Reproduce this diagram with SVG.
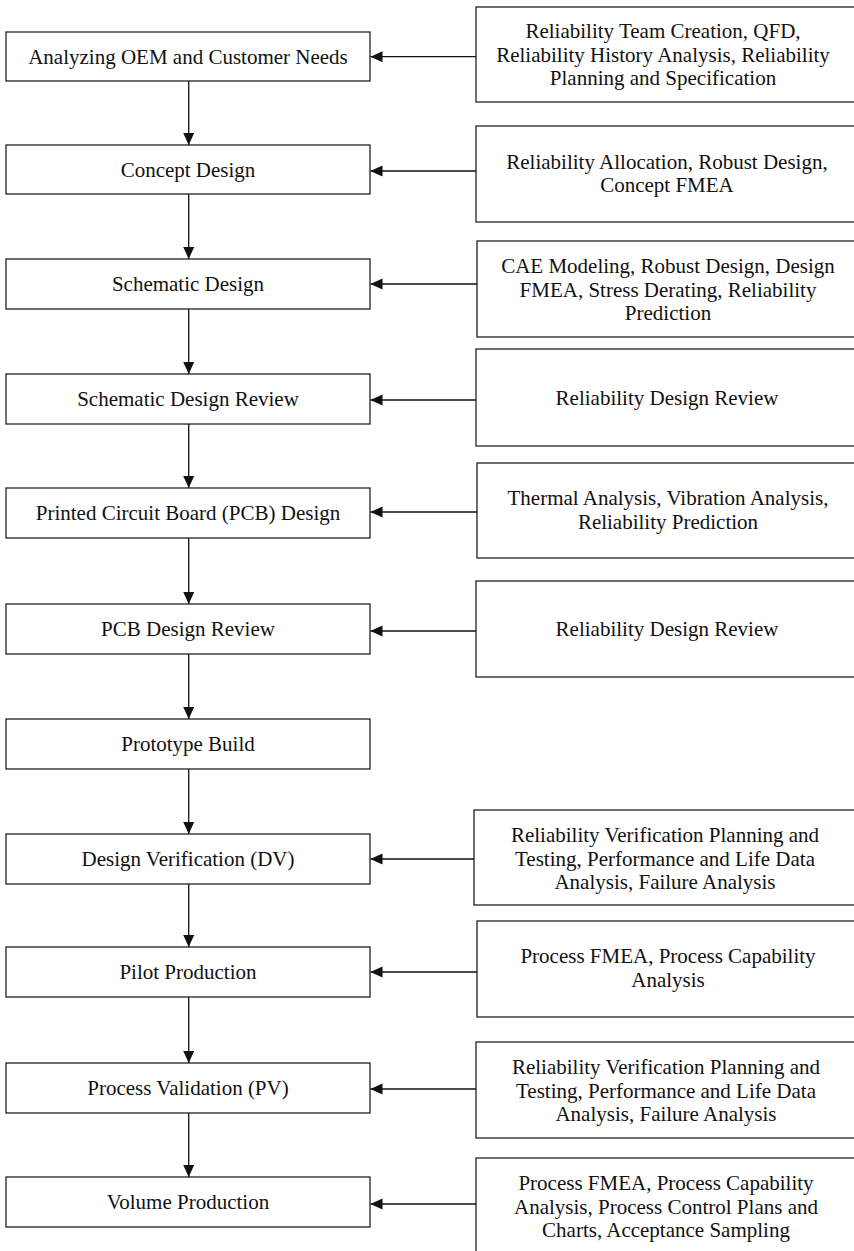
<svg xmlns="http://www.w3.org/2000/svg" width="854" height="1251" viewBox="0 0 854 1251">
  <style>
    .box { fill: #ffffff; stroke: #222222; stroke-width: 1.3; }
    .lbl { font-family: "Liberation Serif", "Times New Roman", serif; font-size: 21px; fill: #111111; text-anchor: middle; }
    .link { stroke: #111111; stroke-width: 1.3; fill: none; }
  </style>
  <defs>
    <marker id="head" markerUnits="userSpaceOnUse" markerWidth="12" markerHeight="12" refX="12" refY="6" orient="auto">
      <path d="M0,0.5 L12,6 L0,11.5 Z" fill="#111111"/>
    </marker>
  </defs>
  <rect width="854" height="1251" fill="#ffffff"/>

  <!-- process steps (left column) -->
  <g id="step-needs"><rect class="box" x="6" y="32" width="364" height="49"/><text class="lbl" x="188" y="63.5">Analyzing OEM and Customer Needs</text></g>
  <g id="step-concept"><rect class="box" x="6" y="145" width="364" height="49"/><text class="lbl" x="188" y="177">Concept Design</text></g>
  <g id="step-schematic"><rect class="box" x="6" y="259" width="364" height="50"/><text class="lbl" x="188" y="291">Schematic Design</text></g>
  <g id="step-schematic-review"><rect class="box" x="6" y="374" width="364" height="50"/><text class="lbl" x="188" y="406">Schematic Design Review</text></g>
  <g id="step-pcb"><rect class="box" x="6" y="488" width="364" height="50"/><text class="lbl" x="188" y="520">Printed Circuit Board (PCB) Design</text></g>
  <g id="step-pcb-review"><rect class="box" x="6" y="604" width="364" height="50"/><text class="lbl" x="188" y="636">PCB Design Review</text></g>
  <g id="step-prototype"><rect class="box" x="6" y="719" width="364" height="50"/><text class="lbl" x="188" y="751">Prototype Build</text></g>
  <g id="step-dv"><rect class="box" x="6" y="834" width="364" height="50"/><text class="lbl" x="188" y="866">Design Verification (DV)</text></g>
  <g id="step-pilot"><rect class="box" x="6" y="947" width="364" height="50"/><text class="lbl" x="188" y="979">Pilot Production</text></g>
  <g id="step-pv"><rect class="box" x="6" y="1063" width="364" height="50"/><text class="lbl" x="188" y="1095">Process Validation (PV)</text></g>
  <g id="step-volume"><rect class="box" x="6" y="1177" width="364" height="50"/><text class="lbl" x="188" y="1209">Volume Production</text></g>

  <!-- reliability activities (right column) -->
  <g id="act-needs"><rect class="box" x="476" y="7" width="390" height="95"/>
    <text class="lbl" x="663" y="38">Reliability Team Creation, QFD,</text>
    <text class="lbl" x="663" y="61.5">Reliability History Analysis, Reliability</text>
    <text class="lbl" x="663" y="85">Planning and Specification</text></g>
  <g id="act-concept"><rect class="box" x="476" y="126" width="390" height="96"/>
    <text class="lbl" x="667" y="168.5">Reliability Allocation, Robust Design,</text>
    <text class="lbl" x="667" y="192">Concept FMEA</text></g>
  <g id="act-schematic"><rect class="box" x="477" y="241" width="390" height="96"/>
    <text class="lbl" x="668" y="273">CAE Modeling, Robust Design, Design</text>
    <text class="lbl" x="668" y="296.5">FMEA, Stress Derating, Reliability</text>
    <text class="lbl" x="668" y="320">Prediction</text></g>
  <g id="act-schematic-review"><rect class="box" x="476" y="349" width="390" height="97"/>
    <text class="lbl" x="667" y="405">Reliability Design Review</text></g>
  <g id="act-pcb"><rect class="box" x="477" y="463" width="390" height="95"/>
    <text class="lbl" x="668" y="505">Thermal Analysis, Vibration Analysis,</text>
    <text class="lbl" x="668" y="528.5">Reliability Prediction</text></g>
  <g id="act-pcb-review"><rect class="box" x="476" y="581" width="390" height="96"/>
    <text class="lbl" x="667" y="636">Reliability Design Review</text></g>
  <g id="act-dv"><rect class="box" x="474" y="810" width="392" height="95"/>
    <text class="lbl" x="665" y="842">Reliability Verification Planning and</text>
    <text class="lbl" x="665" y="865.5">Testing, Performance and Life Data</text>
    <text class="lbl" x="665" y="889">Analysis, Failure Analysis</text></g>
  <g id="act-pilot"><rect class="box" x="477" y="921" width="390" height="96"/>
    <text class="lbl" x="668" y="963">Process FMEA, Process Capability</text>
    <text class="lbl" x="668" y="986.5">Analysis</text></g>
  <g id="act-pv"><rect class="box" x="476" y="1042" width="390" height="96"/>
    <text class="lbl" x="666" y="1074">Reliability Verification Planning and</text>
    <text class="lbl" x="666" y="1097.5">Testing, Performance and Life Data</text>
    <text class="lbl" x="666" y="1121">Analysis, Failure Analysis</text></g>
  <g id="act-volume"><rect class="box" x="476" y="1158" width="390" height="96"/>
    <text class="lbl" x="666" y="1190">Process FMEA, Process Capability</text>
    <text class="lbl" x="666" y="1213.5">Analysis, Process Control Plans and</text>
    <text class="lbl" x="666" y="1237">Charts, Acceptance Sampling</text></g>

  <!-- connectors -->
  <g id="connectors">
    <line class="link" x1="188.7" y1="81" x2="188.7" y2="145" marker-end="url(#head)"/>
    <line class="link" x1="188.7" y1="194" x2="188.7" y2="259" marker-end="url(#head)"/>
    <line class="link" x1="188.7" y1="309" x2="188.7" y2="374" marker-end="url(#head)"/>
    <line class="link" x1="188.7" y1="424" x2="188.7" y2="488" marker-end="url(#head)"/>
    <line class="link" x1="188.7" y1="538" x2="188.7" y2="604" marker-end="url(#head)"/>
    <line class="link" x1="188.7" y1="654" x2="188.7" y2="719" marker-end="url(#head)"/>
    <line class="link" x1="188.7" y1="769" x2="188.7" y2="834" marker-end="url(#head)"/>
    <line class="link" x1="188.7" y1="884" x2="188.7" y2="947" marker-end="url(#head)"/>
    <line class="link" x1="188.7" y1="997" x2="188.7" y2="1063" marker-end="url(#head)"/>
    <line class="link" x1="188.7" y1="1113" x2="188.7" y2="1177" marker-end="url(#head)"/>

    <line class="link" x1="476" y1="56.7" x2="370.5" y2="56.7" marker-end="url(#head)"/>
    <line class="link" x1="476" y1="171" x2="370.5" y2="171" marker-end="url(#head)"/>
    <line class="link" x1="477" y1="284" x2="370.5" y2="284" marker-end="url(#head)"/>
    <line class="link" x1="476" y1="400" x2="370.5" y2="400" marker-end="url(#head)"/>
    <line class="link" x1="477" y1="512" x2="370.5" y2="512" marker-end="url(#head)"/>
    <line class="link" x1="476" y1="631" x2="370.5" y2="631" marker-end="url(#head)"/>
    <line class="link" x1="474" y1="859" x2="370.5" y2="859" marker-end="url(#head)"/>
    <line class="link" x1="477" y1="972" x2="370.5" y2="972" marker-end="url(#head)"/>
    <line class="link" x1="476" y1="1089" x2="370.5" y2="1089" marker-end="url(#head)"/>
    <line class="link" x1="476" y1="1204" x2="370.5" y2="1204" marker-end="url(#head)"/>
  </g>
</svg>
